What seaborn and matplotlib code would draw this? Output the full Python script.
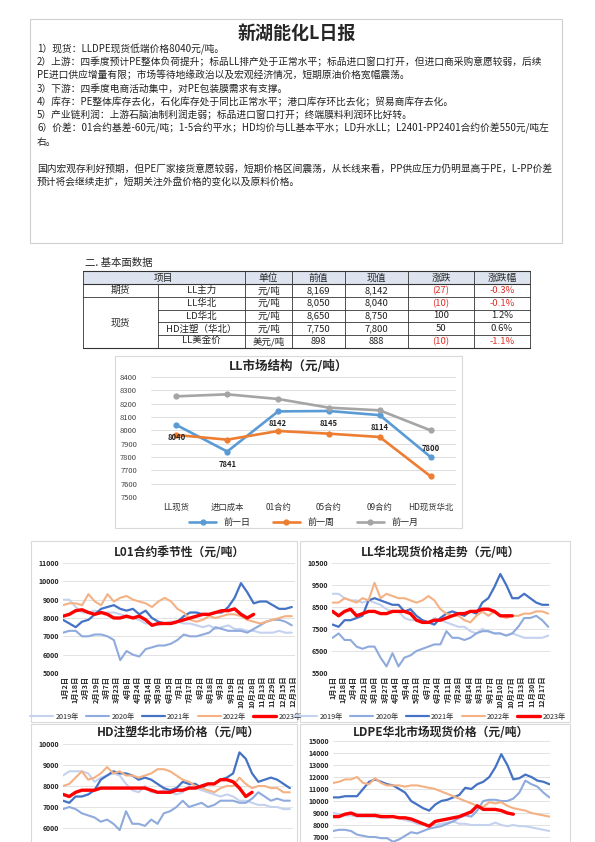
import pandas as pd
import seaborn as sns
import matplotlib.pyplot as plt
from matplotlib.patches import Rectangle
from matplotlib.lines import Line2D

# ---------------- data ----------------
report_title = "新湖能化L日报"
report_lines = [
    "1）现货：LLDPE现货低端价格8040元/吨。",
    "2）上游：四季度预计PE整体负荷提升；标品LL排产处于正常水平；标品进口窗口打开，但进口商采购意愿较弱，后续",
    "PE进口供应增量有限；市场等待地缘政治以及宏观经济情况，短期原油价格宽幅震荡。",
    "3）下游：四季度电商活动集中，对PE包装膜需求有支撑。",
    "4）库存：PE整体库存去化，石化库存处于同比正常水平；港口库存环比去化；贸易商库存去化。",
    "5）产业链利润：上游石脑油制利润走弱；标品进口窗口打开；终端膜料利润环比好转。",
    "6）价差：01合约基差-60元/吨；1-5合约平水；HD均价与LL基本平水；LD升水LL；L2401-PP2401合约价差550元/吨左",
    "右。",
    "",
    "国内宏观存利好预期，但PE厂家接货意愿较弱，短期价格区间震荡，从长线来看，PP供应压力仍明显高于PE，L-PP价差",
    "预计将会继续走扩，短期关注外盘价格的变化以及原料价格。",
]

table_groups = ["期货", "现货"]
table_group_rows = [1, 4]
table_items = ["LL主力", "LL华北", "LD华北", "HD注塑（华北）", "LL美金价"]
table_units = ["元/吨", "元/吨", "元/吨", "元/吨", "美元/吨"]
table_prev = [8169, 8050, 8650, 7750, 898]
table_curr = [8142, 8040, 8750, 7800, 888]

ms_cats = ["LL现货", "进口成本", "01合约", "05合约", "09合约", "HD现货华北"]
ms_day = [8040, 7841, 8142, 8145, 8114, 7800]
ms_week = [7965, 7930, 7995, 7975, 7950, 7655]
ms_month = [8255, 8270, 8235, 8170, 8150, 8000]

years = ["2019年", "2020年", "2021年", "2022年", "2023年"]
days = [0, 10, 20, 30, 40, 50, 60, 70, 80, 90, 100, 110, 120, 130, 140, 150, 160, 170, 180,
        190, 200, 210, 220, 230, 240, 250, 260, 270, 280, 290, 300, 310, 320, 330, 340, 350, 360]

l01_2019 = [9000, 9000, 8600, 8300, 8300, 8400, 8300, 8300, 8300, 8200, 8100, 8000, 7900, 7700, 7700, 7600,
            7700, 7800, 7800, 7700, 7700, 7600, 7500, 7600, 7400, 7500, 7600, 7400, 7400, 7300, 7300, 7200,
            7200, 7200, 7300, 7200, 7200]
l01_2020 = [7200, 7300, 7300, 7000, 7000, 7100, 7100, 7000, 6800, 5700, 6200, 6000, 5900, 6300, 6400, 6500,
            6500, 6600, 6800, 7100, 7000, 7000, 7100, 7200, 7500, 7400, 7300, 7300, 7300, 7200, 7400, 7600,
            7800, 7900, 7900, 7800, 7600]
l01_2021 = [7900, 7700, 7500, 7800, 7900, 8200, 8500, 8600, 8700, 8500, 8400, 8500, 8200, 8400, 8000, 7800,
            7700, 7700, 7800, 8100, 8300, 8300, 8200, 8200, 8300, 8300, 8600, 9100, 9900, 9400, 8800, 8900,
            8900, 8700, 8500, 8500, 8600]
l01_2022 = [8700, 8800, 8800, 8700, 9300, 8900, 8700, 9300, 8900, 9100, 9200, 9000, 8900, 8800, 8600, 8900,
            9100, 8900, 8500, 8300, 7900, 7800, 7900, 8100, 8000, 8100, 8200, 8200, 8100, 7900, 7800, 7700,
            7800, 7900, 8000, 8100, 8100]
l01_2023 = [8100, 8200, 8400, 8450, 8300, 8200, 8300, 8200, 8000, 8000, 8100, 8000, 8100, 7900, 7600, 7700,
            7700, 7700, 7800, 7900, 8000, 8100, 8200, 8200, 8300, 8400, 8400, 8500, 8200, 8000, 8200]

llhb_2019 = [9100, 9100, 8900, 8800, 8800, 8700, 8800, 8700, 8600, 8400, 8300, 8300, 8000, 7900, 7900, 7900,
             7800, 8000, 7900, 7800, 7700, 7600, 7600, 7400, 7300, 7500, 7400, 7300, 7300, 7200, 7300, 7200,
             7100, 7100, 7100, 7100, 7200]
llhb_2020 = [7100, 7300, 7000, 7000, 6700, 6600, 6700, 6700, 6200, 5800, 6400, 5800, 6200, 6300, 6500, 6600,
             6700, 6800, 6800, 7400, 7100, 7100, 7000, 7100, 7300, 7400, 7400, 7300, 7300, 7200, 7300, 7600,
             8000, 8000, 8100, 7900, 7600]
llhb_2021 = [7700, 7600, 7900, 7900, 8000, 8100, 8800, 8900, 8800, 8700, 8600, 8600, 8300, 8400, 8100, 7900,
             7800, 7700, 8000, 8200, 8300, 8200, 8100, 8300, 8200, 8700, 8900, 9400, 10000, 9500, 8900, 8900,
             9100, 8900, 8700, 8600, 8600]
llhb_2022 = [8700, 8700, 8900, 8800, 8700, 8900, 8800, 9600, 8900, 9100, 9000, 8900, 8900, 8800, 8700, 8800,
             9000, 8800, 8400, 8200, 8100, 8100, 7900, 7800, 8100, 8300, 8100, 8300, 8100, 8000, 8100, 8100,
             8200, 8200, 8300, 8300, 8200]
llhb_2023 = [8300, 8100, 8300, 8400, 8100, 8200, 8300, 8300, 8200, 8200, 8300, 8300, 8300, 8200, 7900, 7800,
             7800, 7900, 7900, 8000, 8100, 8200, 8200, 8300, 8300, 8400, 8400, 8300, 8100, 8100, 8100]

hd_2019 = [8500, 8700, 8700, 8700, 8600, 8200, 8400, 8500, 8600, 8500, 8100, 7800, 7700, 8000, 7700, 7700,
           7800, 7700, 7600, 7700, 8000, 7900, 7800, 7700, 7600, 7500, 7600, 7500, 7300, 7300, 7200, 7100,
           7100, 7000, 7000, 6900, 6900]
hd_2020 = [6900, 7000, 6900, 6700, 6600, 6500, 6300, 6400, 6200, 5900, 6800, 6200, 6200, 6100, 6400, 6200,
           6700, 6800, 7000, 7300, 7000, 7100, 7200, 7000, 7100, 7300, 7300, 7300, 7200, 7200, 7400, 7700,
           7500, 7300, 7400, 7300, 7300]
hd_2021 = [7300, 7200, 7500, 7500, 7600, 7800, 8300, 8500, 8700, 8600, 8600, 8500, 8300, 8400, 8300, 8100,
           7900, 7800, 7900, 8200, 8100, 8100, 7900, 8100, 8100, 8300, 8400, 8600, 9600, 9300, 8600, 8200,
           8300, 8400, 8300, 8100, 7900]
hd_2022 = [8000, 8100, 8400, 8700, 8300, 8400, 8600, 8900, 8600, 8700, 8500, 8500, 8400, 8500, 8600, 8800,
           8800, 8700, 8500, 8300, 8200, 8000, 7900, 7800, 7700, 7900, 8000, 8000, 8400, 8100, 7900, 8000,
           8000, 7900, 7900, 7700, 7700]
hd_2023 = [7600, 7500, 7700, 7800, 7800, 7800, 7900, 7900, 7900, 7900, 7900, 7900, 7900, 7900, 7800, 7700,
           7700, 7700, 7800, 7800, 7900, 7900, 8000, 8100, 8100, 8300, 8300, 8200, 7900, 7500, 7700]

ld_2019 = [9000, 8900, 8800, 8800, 8700, 8700, 8700, 8700, 8600, 8600, 8700, 8600, 8400, 8300, 8100, 8000,
           8000, 8000, 8100, 8200, 8300, 8100, 8100, 8000, 8000, 8000, 8000, 8200, 8000, 7900, 8000, 7900,
           7900, 7800, 7700, 7600, 7500]
ld_2020 = [7500, 7600, 7600, 7500, 7200, 7100, 7000, 7000, 6900, 6900, 6600, 6800, 7100, 7400, 7300, 7500,
           7700, 7800, 7900, 8100, 8300, 8600, 8800, 8700, 9200, 10000, 10100, 10100, 10000, 10000, 10200, 10700,
           11700, 11400, 11200, 10700, 10300]
ld_2021 = [10300, 10300, 10400, 10400, 10400, 11000, 11600, 11800, 11600, 11400, 11300, 11000, 10700, 10000, 9700, 9400,
           9200, 9700, 10000, 10100, 10300, 10500, 11100, 11000, 11400, 11600, 12000, 12800, 13900, 13000, 11800, 11900,
           12200, 12000, 11700, 11600, 11400]
ld_2022 = [11500, 11600, 11800, 11800, 12000, 11500, 11400, 11900, 11500, 11300, 11300, 11300, 11200, 11300, 11300, 11200,
           11100, 11000, 10800, 10600, 10400, 10200, 10000, 9800, 9600, 9500, 9900, 9800, 9900, 9600, 9400, 9300,
           9200, 9000, 8900, 8800, 8700]
ld_2023 = [8700, 8700, 8900, 9000, 8800, 8800, 8800, 8800, 8700, 8700, 8700, 8600, 8600, 8500, 8300, 8100,
           7900, 8300, 8400, 8500, 8600, 8700, 8900, 9100, 9600, 9300, 9300, 9300, 9200, 9000, 8900]

l01_xlabels = ["1月2日", "1月18日", "2月3日", "2月19日", "3月7日", "3月23日", "4月8日", "4月24日",
               "5月14日", "5月30日", "6月15日", "7月1日", "7月17日", "8月2日", "8月18日", "9月3日",
               "9月19日", "10月12日", "10月28日", "11月13日", "11月29日", "12月15日", "12月31日"]
llhb_xlabels = ["1月1日", "1月18日", "2月4日", "2月21日", "3月10日", "3月27日", "4月14日", "5月4日",
                "5月21日", "6月7日", "6月24日", "7月11日", "7月28日", "8月14日", "8月31日", "9月17日",
                "10月10日", "10月27日", "11月13日", "11月30日", "12月17日"]

# ---------------- style ----------------
sns.set_theme(style="white")
plt.rcParams['font.family'] = ['Noto Sans CJK SC', 'DejaVu Sans']
plt.rcParams['axes.unicode_minus'] = False

W, H = 595, 842
fig = plt.figure(figsize=(W / 100, H / 100), dpi=100)


def rect(x0, y0, x1, y1):
    return [x0 / W, 1 - y1 / H, (x1 - x0) / W, (y1 - y0) / H]


# overlay in pixel coords for page furniture
page = fig.add_axes([0, 0, 1, 1], zorder=-1)
page.set_xlim(0, W)
page.set_ylim(H, 0)
page.axis("off")

# header box + text
page.add_patch(Rectangle((30, 19), 532, 224, fill=False, ec="#cfcfcf", lw=0.8))
page.text(297, 33, report_title, ha="center", va="center", fontsize=13, fontweight="bold")
for i, line in enumerate(report_lines):
    page.text(37, 49 + i * 13.3, line, ha="left", va="center", fontsize=7.0, color="#222222")

# ---------------- table ----------------
page.text(85, 263, "二. 基本面数据", ha="left", va="center", fontsize=7.5)
cols = [83, 158, 245, 292, 345, 408, 474, 530]
top, hdr_bot, row_h = 271, 284, 12.8
n_rows = len(table_items)
bottom = hdr_bot + n_rows * row_h
page.add_patch(Rectangle((cols[0], top), cols[-1] - cols[0], hdr_bot - top, fc="#dde4ef", ec="none"))
lc = "#333333"
page.plot([cols[0], cols[-1]], [top, top], color=lc, lw=0.8)
page.plot([cols[0], cols[-1]], [hdr_bot, hdr_bot], color=lc, lw=0.8)
page.plot([cols[0], cols[-1]], [bottom, bottom], color=lc, lw=0.8)
for i, cx in enumerate(cols):
    if i == 1:
        page.plot([cx, cx], [hdr_bot, bottom], color=lc, lw=0.6)
    else:
        page.plot([cx, cx], [top, bottom], color=lc, lw=0.6)
headers = ["项目", "单位", "前值", "现值", "涨跌", "涨跌幅"]
hx = [(cols[0] + cols[2]) / 2] + [(cols[k] + cols[k + 1]) / 2 for k in range(2, 7)]
for x, t in zip(hx, headers):
    page.text(x, (top + hdr_bot) / 2, t, ha="center", va="center", fontsize=7)
r0 = 0
for g, n in zip(table_groups, table_group_rows):
    y0 = hdr_bot + r0 * row_h
    page.text((cols[0] + cols[1]) / 2, y0 + n * row_h / 2, g, ha="center", va="center", fontsize=7)
    page.plot([cols[0], cols[-1]], [y0 + n * row_h] * 2, color=lc, lw=0.6)
    for k in range(1, n):
        page.plot([cols[1], cols[-1]], [y0 + k * row_h] * 2, color=lc, lw=0.6)
    r0 += n
for r in range(n_rows):
    yc = hdr_bot + (r + 0.5) * row_h
    chg = table_curr[r] - table_prev[r]
    pct = chg / table_prev[r] * 100
    red = "#e0302a" if chg < 0 else "#222222"
    cells = [table_items[r], table_units[r], f"{table_prev[r]:,}", f"{table_curr[r]:,}",
             f"({abs(chg)})" if chg < 0 else f"{chg}", f"{pct:.1f}%"]
    colors = ["#222222"] * 4 + [red, red]
    for k, (t, c) in enumerate(zip(cells, colors)):
        page.text((cols[k + 1] + cols[k + 2]) / 2, yc, t, ha="center", va="center", fontsize=6.8, color=c)

# ---------------- market structure ----------------
page.add_patch(Rectangle((115, 356), 347, 172, fill=False, ec="#d9d9d9", lw=0.8))
ax = fig.add_axes(rect(151, 377, 456, 497))
ms = pd.DataFrame({
    "cat": ms_cats * 3,
    "val": ms_day + ms_week + ms_month,
    "series": ["前一日"] * 6 + ["前一周"] * 6 + ["前一月"] * 6,
})
sns.lineplot(data=ms, x="cat", y="val", hue="series", marker="o", markersize=4.5, markeredgewidth=0,
             palette=["#5b9bd5", "#ed7d31", "#a5a5a5"], lw=1.9, ax=ax, sort=False)
for i, v in enumerate(ms_day):
    off = 6 if i == len(ms_day) - 1 else -9
    ax.annotate(str(v), (i, v), xytext=(0, off), textcoords="offset points", ha="center",
                va="center", fontsize=5.5, fontweight="bold", color="#222222")
ax.set_ylim(7500, 8400)
ax.set_yticks(range(7500, 8401, 100))
ax.set_xlim(-0.5, 5.5)
ax.grid(axis="y", color="#d9d9d9", lw=0.6)
for s in ax.spines.values():
    s.set_visible(False)
ax.tick_params(axis="y", labelsize=5.5, length=0, pad=10, colors="#444444")
ax.tick_params(axis="x", labelsize=6, length=0, pad=4, colors="#333333")
ax.set_xlabel("")
ax.set_ylabel("")
ax.legend(loc="upper center", bbox_to_anchor=(0.5, -0.11), ncol=3, frameon=False, fontsize=6.5,
          handlelength=3, columnspacing=2.5)
fig.text(0.5 * (115 + 462) / W, 1 - 366 / H, "LL市场结构（元/吨）", ha="center", va="center",
         fontsize=9, fontweight="bold")

# ---------------- seasonal charts ----------------
year_colors = ["#c5d2ee", "#8faadc", "#4472c4", "#f4b183", "#ff0000"]
year_lw = [1.5, 1.5, 1.6, 1.5, 2.4]


def seasonal(px, title, title_y, series, ylim, ystep, xlim, ytick_lo, xlabels=None, xtick_span=None):
    a = fig.add_axes(rect(*px))
    for name, vals, col, lw in zip(years, series, year_colors, year_lw):
        sns.lineplot(x=days[:len(vals)], y=vals, color=col, lw=lw, ax=a, label=name)
    a.set_ylim(*ylim)
    a.set_yticks(range(ytick_lo, ylim[1] + 1, ystep))
    a.set_xlim(*xlim)
    a.grid(axis="y", color="#dddddd", lw=0.6)
    for s in a.spines.values():
        s.set_visible(False)
    a.tick_params(axis="y", labelsize=5, length=0, pad=3)
    for t in a.get_yticklabels():
        t.set_fontweight("bold")
    if xlabels:
        lo, hi = xtick_span
        step = (hi - lo) / (len(xlabels) - 1)
        a.set_xticks([lo + k * step for k in range(len(xlabels))])
        a.set_xticklabels(xlabels, rotation=90, fontsize=5.2, fontweight="bold")
        a.tick_params(axis="x", length=0, pad=2)
    else:
        a.set_xticks([])
    a.legend().remove()
    fig.text((px[0] + px[2]) / 2 / W, 1 - title_y / H, title, ha="center", va="center",
             fontsize=8.5, fontweight="bold")
    return a


page.add_patch(Rectangle((31, 541), 266, 181, fill=False, ec="#d9d9d9", lw=0.8))
page.add_patch(Rectangle((300, 541), 270, 181, fill=False, ec="#d9d9d9", lw=0.8))
page.add_patch(Rectangle((31, 724), 266, 130, fill=False, ec="#d9d9d9", lw=0.8))
page.add_patch(Rectangle((300, 724), 270, 130, fill=False, ec="#d9d9d9", lw=0.8))

a1 = seasonal((63, 563, 295, 673), "L01合约季节性（元/吨）", 553,
              [l01_2019, l01_2020, l01_2021, l01_2022, l01_2023], (5000, 11000), 1000, (0, 365), 5000,
              l01_xlabels, (3, 362))
a2 = seasonal((332, 563, 550, 673), "LL华北现货价格走势（元/吨）", 553,
              [llhb_2019, llhb_2020, llhb_2021, llhb_2022, llhb_2023], (5500, 10500), 1000, (-1, 363), 5500,
              llhb_xlabels, (0, 350))
a3 = seasonal((63, 744, 293, 849), "HD注塑华北市场价格（元/吨）", 733,
              [hd_2019, hd_2020, hd_2021, hd_2022, hd_2023], (5000, 10000), 1000, (0, 365), 6000)
a4 = seasonal((333, 741, 550, 849), "LDPE华北市场现货价格（元/吨）", 732,
              [ld_2019, ld_2020, ld_2021, ld_2022, ld_2023], (6000, 15000), 1000, (0, 361), 7000)

handles = [Line2D([], [], color=c, lw=lw) for c, lw in zip(year_colors, year_lw)]
fig.legend(handles, years, loc="center", bbox_to_anchor=(166 / W, 1 - 717 / H), ncol=5, frameon=False,
           fontsize=5.2, handlelength=3.2, columnspacing=1.0, handletextpad=0.3)
fig.legend(handles, years, loc="center", bbox_to_anchor=(430 / W, 1 - 717 / H), ncol=5, frameon=False,
           fontsize=5.2, handlelength=3.2, columnspacing=1.0, handletextpad=0.3)

fig.savefig("out.png", dpi=100)
